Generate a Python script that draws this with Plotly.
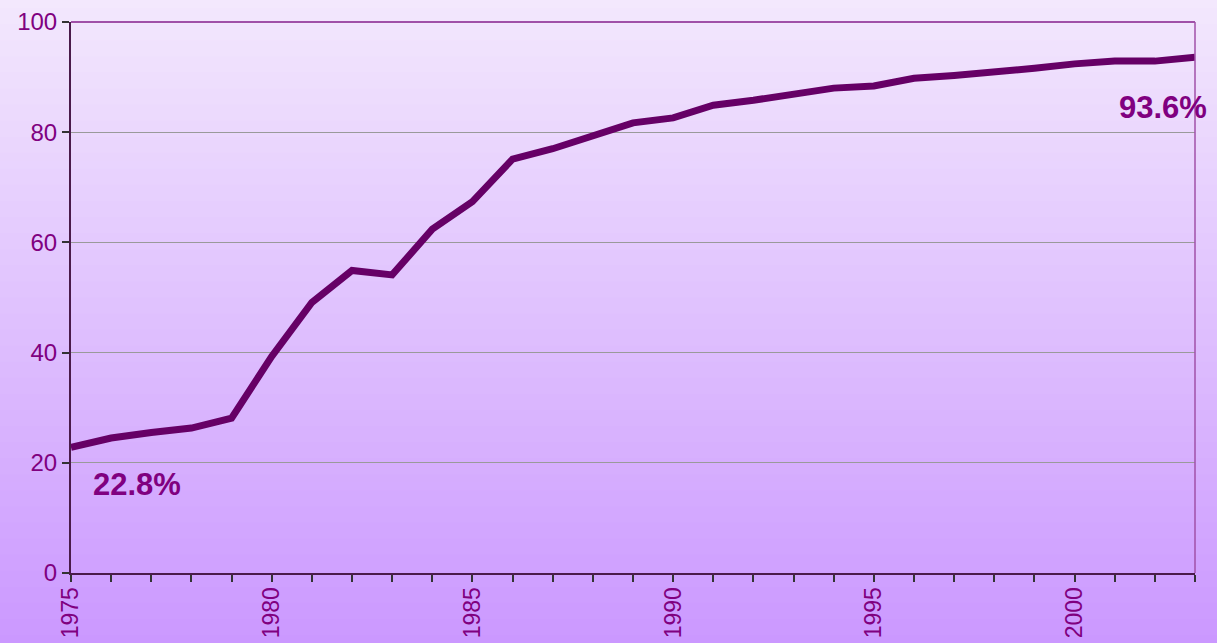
import plotly.graph_objects as go

years = list(range(1975, 2004))
share = [22.8, 24.5, 25.5, 26.3, 28.1, 39.3, 49.1, 54.9, 54.1, 62.4, 67.4, 75.1, 77.0, 79.2,
         81.7, 82.6, 84.9, 85.8, 86.8, 88.0, 88.4, 89.8, 90.3, 90.8, 91.6, 92.4, 92.9, 92.9, 93.6]
y_ticks = [0, 20, 40, 60, 80, 100]
x_ticks = [1975, 1980, 1985, 1990, 1995, 2000]
label_first = "22.8%"
label_last = "93.6%"

W, H = 1217, 643
ml, mr, mt, mb = 71, 22, 22, 70

fig = go.Figure()
fig.add_trace(go.Scatter(x=years, y=share, mode="lines",
                         line=dict(color="#660066", width=7), hoverinfo="skip",
                         cliponaxis=False))

# background gradient across whole page
top = (243, 232, 253)
bot = (203, 152, 255)
n = 80
ph = H - mt - mb
pw = W - ml - mr
shapes = []
for i in range(n):
    t = (i + 0.5) / n
    c = tuple(round(top[k] + (bot[k] - top[k]) * t) for k in range(3))
    y0px = H * i / n
    y1px = H * (i + 1) / n + 1
    p0 = (H - mb - y0px) / ph
    p1 = (H - mb - y1px) / ph
    shapes.append(dict(type="rect", xref="paper", yref="paper",
                       x0=-ml / pw - 0.01, x1=1 + mr / pw + 0.01,
                       y0=p1, y1=p0, fillcolor="rgb(%d,%d,%d)" % c,
                       line=dict(width=0), layer="below"))
# top and right border
shapes.append(dict(type="line", xref="paper", yref="paper", x0=0, x1=1, y0=1, y1=1,
                   line=dict(color="#a050a8", width=2), layer="above"))
shapes.append(dict(type="line", xref="paper", yref="paper", x0=1, x1=1, y0=0, y1=1,
                   line=dict(color="#a050a8", width=1.5), layer="above"))

fig.update_layout(
    width=W, height=H,
    margin=dict(l=ml, r=mr, t=mt, b=mb, autoexpand=False),
    paper_bgcolor="rgba(0,0,0,0)", plot_bgcolor="rgba(0,0,0,0)",
    showlegend=False,
    shapes=shapes,
    font=dict(family="Liberation Sans, Arial, sans-serif", color="#800080", size=24),
    xaxis=dict(range=[1975, 2003], tickmode="array", tickvals=x_ticks,
               ticktext=[str(v) for v in x_ticks], tickangle=-90,
               showgrid=False, zeroline=False, showline=True,
               linecolor="#4a1a4a", linewidth=2, automargin=False,
               ticks="outside", ticklen=7, tickcolor="#333333", tickwidth=1.5,
               ticklabelstandoff=-4,
               minor=dict(dtick=1, ticks="outside", ticklen=7, tickcolor="#333333",
                          tickwidth=1.5, showgrid=False),
               tickfont=dict(size=23, color="#800080")),
    yaxis=dict(range=[0, 100], tickmode="array", tickvals=y_ticks,
               showgrid=True, gridcolor="#9a9a9a", gridwidth=1, zeroline=False,
               showline=True, linecolor="#4a1a4a", linewidth=2, automargin=False,
               ticks="outside", ticklen=7, tickcolor="#333333", tickwidth=1.5,
               tickfont=dict(size=24, color="#800080")),
    annotations=[
        dict(x=years[0] + 1.64, y=16, xref="x", yref="y", text="<b>%s</b>" % label_first,
             showarrow=False, font=dict(size=31, color="#800080")),
        dict(x=years[-1], y=84.4, xref="x", yref="y", text="<b>%s</b>" % label_last,
             showarrow=False, xanchor="right", xshift=14, font=dict(size=31, color="#800080")),
    ],
)

fig.write_html("out.html", config={"displayModeBar": False},
               post_script="document.body.style.margin='0';document.body.style.overflow='hidden';")
